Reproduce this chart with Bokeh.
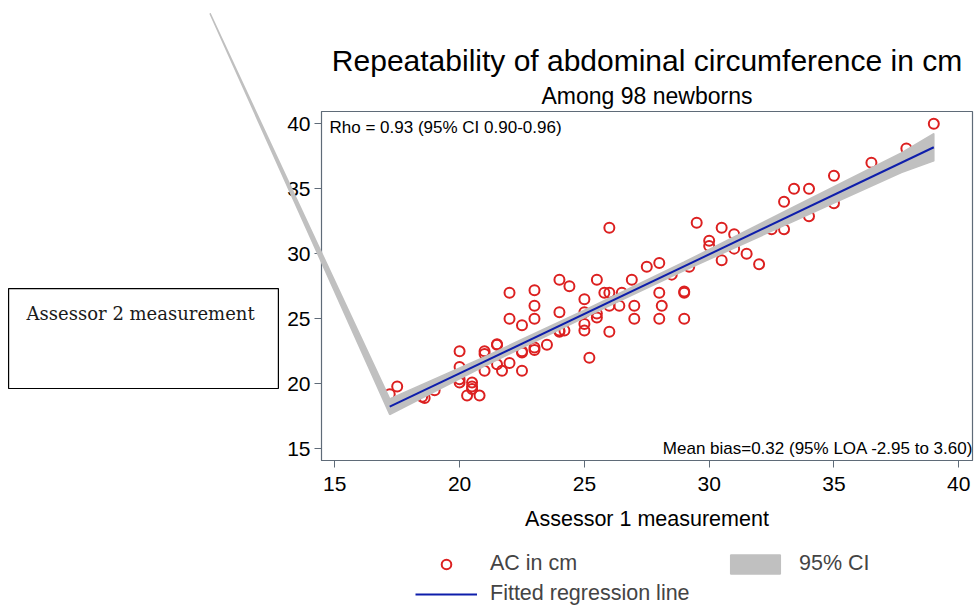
from bokeh.plotting import figure
from bokeh.layouts import column
from bokeh.models import Range1d, Legend, LegendItem, Label, Title
from bokeh.core.properties import value
from bokeh.embed import file_html
from bokeh.resources import INLINE

# Scatter: abdominal circumference (cm), assessor 1 vs assessor 2
ac_assessor1 = [17.2, 17.5, 18.5, 19.0, 18.6, 20.0, 20.0, 20.0, 20.0, 20.5,
                20.5, 20.5, 20.3, 20.8, 21.0, 21.0, 21.5, 21.0, 21.7, 22.0,
                22.5, 22.5, 22.5, 22.0, 22.0, 23.0, 23.0, 23.0, 23.0, 23.0,
                23.5, 24.0, 24.4, 24.0, 24.0, 24.2, 25.0, 25.0, 25.0, 25.0,
                25.5, 25.8, 26.0, 26.5, 26.0, 26.4, 27.0, 27.0, 25.5, 25.5,
                26.0, 25.2, 26.0, 26.9, 27.5, 28.0, 28.0, 29.0, 29.0, 28.1,
                28.0, 29.0, 29.2, 28.5, 29.5, 30.0, 30.0, 30.5, 31.0, 31.0,
                31.5, 30.5, 32.0, 32.5, 33.0, 33.0, 33.4, 34.0, 34.0, 35.0,
                35.0, 36.5, 37.9, 39.0, 21.5, 22.5, 21.5, 24.0]
ac_assessor2 = [19.2, 19.8, 19.0, 19.5, 18.9, 22.5, 21.3, 20.1, 20.35, 20.1,
                19.8, 19.6, 19.1, 19.1, 22.5, 22.3, 23.0, 21.0, 21.0, 21.6,
                21.0, 22.5, 24.5, 25.0, 27.0, 27.2, 26.0, 25.0, 22.8, 22.6,
                23.0, 28.0, 27.5, 25.5, 24.1, 24.1, 26.5, 25.5, 24.6, 24.1,
                28.0, 27.0, 27.0, 27.0, 26.0, 26.0, 26.0, 25.0, 25.1, 25.4,
                24.0, 22.0, 32.0, 28.0, 29.0, 29.3, 27.0, 27.0, 27.1, 26.0,
                25.0, 25.0, 29.0, 28.4, 32.4, 31.0, 30.6, 32.0, 31.5, 30.4,
                30.0, 29.5, 29.2, 31.9, 31.9, 34.0, 35.0, 35.0, 32.9, 36.0,
                33.9, 37.0, 38.1, 40.0, 21.5, 22.4, 23.05, 24.0]

# Fitted regression line
fit_x = [17.2, 39.0]
fit_y = [18.24, 38.2]

# 95% CI band of the fit, plus the stray vertex the original drew outside the plot
ci_x = [17.2, 21.0, 25.0, 29.0, 33.4, 37.7, 39.0]
ci_lower = [17.64, 21.37, 25.10, 28.71, 32.52, 36.26, 37.15]
ci_upper = [18.84, 22.07, 25.66, 29.37, 33.62, 37.76, 39.25]
stray_x = 10.0
stray_y = 48.5

x_ticks = [15, 20, 25, 30, 35, 40]
y_ticks = [15, 20, 25, 30, 35, 40]

title_text = "Repeatability of abdominal circumference in cm"
subtitle_text = "Among 98 newborns"
x_label = "Assessor 1 measurement"
y_label = "Assessor 2 measurement"
rho_text = "Rho = 0.93 (95% CI 0.90-0.96)"
bias_text = "Mean bias=0.32 (95% LOA -2.95 to 3.60)"
legend_labels = ["AC in cm", "Fitted regression line", "95% CI"]

FONT = "Liberation Sans"
FRAME = "#5f6b78"
RED = "#dc2020"
BLUE = "#0e1eab"
GREY = "#c0c0c0"

p = figure(width=977, height=535, output_backend="svg", toolbar_location=None,
           x_range=Range1d(14.467, 40.55), y_range=Range1d(14.1, 40.95),
           min_border_left=321, min_border_right=5, min_border_top=111,
           min_border_bottom=75)
p.title.text = ""
p.title.standoff = 0
p.add_layout(Title(text=subtitle_text, align="center", text_font=FONT,
                   text_font_size="23px", text_font_style="normal",
                   text_color="black", standoff=6), "above")
p.add_layout(Title(text=title_text, align="center", text_font=FONT,
                   text_font_size="30px", text_font_style="normal",
                   text_color="black", standoff=2), "above")

p.xgrid.visible = False
p.ygrid.visible = False
p.outline_line_color = FRAME
p.outline_line_width = 1.2
p.background_fill_color = "white"
p.border_fill_color = "white"

for ax in (p.xaxis[0], p.yaxis[0]):
    ax.axis_line_color = FRAME
    ax.major_tick_line_color = FRAME
    ax.major_tick_out = 7
    ax.major_tick_in = 0
    ax.minor_tick_line_color = None
    ax.major_label_text_font = FONT
    ax.major_label_text_font_size = "21px"
    ax.major_label_text_color = "black"
p.xaxis.ticker = x_ticks
p.yaxis.ticker = y_ticks
p.xaxis.major_label_standoff = 9
p.yaxis.major_label_standoff = 4
p.xaxis.axis_label = x_label
p.xaxis.axis_label_text_font = FONT
p.xaxis.axis_label_text_font_size = "21.5px"
p.xaxis.axis_label_text_font_style = "normal"
p.xaxis.axis_label_text_color = "black"
p.xaxis.axis_label_standoff = 13

sc = p.scatter(ac_assessor1, ac_assessor2, marker="circle", size=10,
               line_color=RED, line_width=2, fill_color=None)

band_xs = [stray_x] + ci_x + ci_x[::-1] + [stray_x]
band_ys = [stray_y] + ci_lower + ci_upper[::-1] + [stray_y]
band = p.patch(band_xs, band_ys, fill_color=GREY, line_color=GREY,
               line_width=1.5, level="annotation")
ln = p.line(fit_x, fit_y, line_color=BLUE, line_width=2, level="annotation")

# Boxed y-axis title to the left of the plot
p.quad(left=[1.93], right=[12.74], bottom=[19.64], top=[27.33],
       fill_color=None, line_color="black", line_width=1.2, level="annotation")
p.text(x=[7.22], y=[25.4], text=[y_label], text_align="center",
       text_baseline="middle", text_font=value("DejaVu Serif"),
       text_font_size="18px", text_color="#1a1a1a", level="annotation")

p.add_layout(Label(x=14.79, y=39.72, text=rho_text, text_align="left",
                   text_baseline="middle", text_font=FONT,
                   text_font_size="17px", text_color="black"))
p.add_layout(Label(x=40.58, y=15.02, text=bias_text, text_align="right",
                   text_baseline="middle", text_font=FONT,
                   text_font_size="17px", text_color="black"))

# Legend strip below the chart (legend-only proxy renderers with no visible data)
nan = float("nan")
lg = figure(width=977, height=73, output_backend="svg", toolbar_location=None,
            x_range=Range1d(0, 1), y_range=Range1d(0, 1),
            x_axis_type=None, y_axis_type=None, min_border_left=321,
            min_border_right=5, min_border_top=0, min_border_bottom=0)
lg.xgrid.visible = False
lg.ygrid.visible = False
lg.outline_line_color = None
lg_sc = lg.scatter([nan], [nan], marker="circle", size=8, line_color=RED,
                   line_width=2, fill_color=None)
lg_ln = lg.line([nan, nan], [nan, nan], line_color=BLUE, line_width=2)
lg_band = lg.patch([nan, nan, nan], [nan, nan, nan], fill_color=GREY,
                   line_color=GREY, line_width=1.5)
legend = Legend(items=[LegendItem(label=legend_labels[0], renderers=[lg_sc]),
                       LegendItem(label=legend_labels[1], renderers=[lg_ln]),
                       LegendItem(label=legend_labels[2], renderers=[lg_band])],
                ncols=2, location=(94, 2), padding=2, margin=0,
                glyph_width=62, glyph_height=24, label_height=24,
                label_width=229, label_standoff=13, spacing=5,
                label_text_font=FONT, label_text_font_size="21.5px",
                border_line_color=None, background_fill_alpha=0)
lg.add_layout(legend, "center")

layout = column(p, lg, spacing=0)
open("out.html", "w").write(file_html(layout, INLINE))
